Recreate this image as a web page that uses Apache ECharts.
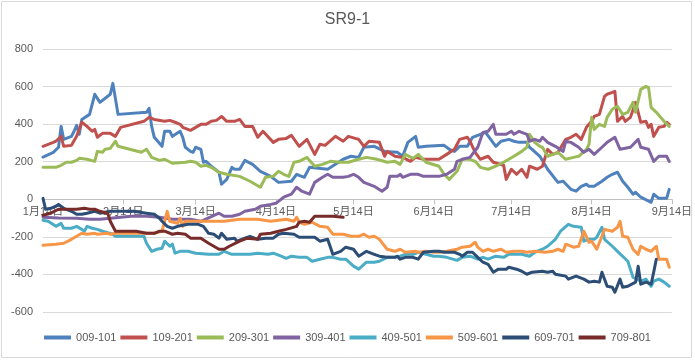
<!DOCTYPE html>
<html>
<head>
<meta charset="utf-8">
<script src="https://cdn.jsdelivr.net/npm/echarts@6/dist/echarts.min.js"></script>
<style>
html,body{margin:0;padding:0;background:#fff;}
#chart{width:695px;height:362px;}
</style>
</head>
<body>
<div id="chart"></div>
<script>
const title = 'SR9-1';
const seriesNames = ['009-101','109-201','209-301','309-401','409-501','509-601','609-701','709-801'];
const seriesColors = ['#4F81BD','#C0504D','#9BBB59','#8064A2','#4BACC6','#F79646','#2C4D75','#772C2A'];
const tickDates = ['1/14','2/14','3/14','4/14','5/14','6/14','7/14','8/14','9/14'];
const yTicks = { min: -600, max: 800, interval: 200 };

const s009_101 = [['1/14',225],['1/18',250],['1/20',277],['1/21',388],['1/22',319],['1/25',335],['1/26',362],['1/27',394],['1/28',346],['1/29',425],['2/1',452],['2/3',559],['2/5',516],['2/9',559],['2/10',617],['2/12',452],['2/23',463],['2/24',484],['2/25',388],['2/26',330],['3/1',282],['3/2',362],['3/4',362],['3/5',335],['3/8',362],['3/9',330],['3/10',277],['3/12',255],['3/13',250],['3/14',277],['3/16',266],['3/17',197],['3/18',202],['3/20',176],['3/23',144],['3/24',80],['3/26',106],['3/28',170],['3/29',160],['3/31',160],['4/2',207],['4/5',186],['4/8',149],['4/12',122],['4/15',90],['4/20',96],['4/22',133],['4/25',117],['4/27',170],['5/4',160],['5/7',186],['5/10',213],['5/13',229],['5/16',223],['5/18',277],['5/22',282],['5/26',255],['5/31',250],['6/2',229],['6/4',303],['6/7',335],['6/8',277],['6/11',282],['6/18',287],['6/20',266],['6/22',255],['6/24',282],['6/27',282],['6/29',330],['7/2',346],['7/4',356],['7/6',319],['7/8',282],['7/10',309],['7/13',319],['7/15',309],['7/17',303],['7/20',303],['7/21',277],['7/22',266],['7/25',229],['7/28',160],['8/1',90],['8/3',96],['8/6',53],['8/8',43],['8/10',69],['8/12',80],['8/13',69],['8/15',69],['8/18',96],['8/20',117],['8/22',133],['8/24',144],['8/26',96],['8/28',64],['8/30',27],['8/31',37],['9/2',11],['9/6',-16],['9/7',27],['9/9',5],['9/12',5],['9/13',53]];

const s109_201 = [['1/14',282],['1/18',303],['1/19',309],['1/21',335],['1/22',282],['1/25',287],['1/27',335],['1/29',410],['1/31',388],['2/2',362],['2/3',372],['2/4',330],['2/6',351],['2/9',351],['2/11',335],['2/13',383],['2/22',415],['2/24',436],['2/26',425],['3/2',415],['3/4',420],['3/6',410],['3/8',399],['3/9',383],['3/12',367],['3/14',383],['3/16',399],['3/18',399],['3/20',415],['3/22',420],['3/24',441],['3/26',415],['3/29',415],['3/31',425],['4/2',388],['4/5',388],['4/7',330],['4/9',362],['4/13',303],['4/15',319],['4/18',324],['4/20',340],['4/23',282],['4/26',319],['4/29',239],['5/1',293],['5/3',287],['5/7',335],['5/10',309],['5/12',335],['5/16',319],['5/18',282],['5/20',309],['5/24',303],['5/26',229],['5/27',255],['5/30',229],['6/2',223],['6/5',202],['6/7',223],['6/10',213],['6/16',213],['6/19',239],['6/22',266],['6/24',319],['6/27',330],['6/28',309],['6/30',250],['7/2',213],['7/5',229],['7/7',197],['7/11',181],['7/12',106],['7/14',160],['7/16',133],['7/18',160],['7/20',117],['7/21',176],['7/24',160],['7/26',176],['7/28',266],['7/30',239],['8/1',250],['8/4',319],['8/6',330],['8/8',346],['8/10',319],['8/12',383],['8/14',415],['8/15',441],['8/17',452],['8/19',548],['8/20',559],['8/22',569],['8/23',575],['8/24',415],['8/26',441],['8/27',415],['8/29',436],['8/31',516],['9/2',410],['9/4',415],['9/5',383],['9/6',399],['9/7',335],['9/9',383],['9/11',388],['9/12',410],['9/13',399]];

const s209_301 = [['1/14',170],['1/19',170],['1/21',181],['1/23',197],['1/25',197],['1/27',207],['1/28',218],['1/31',213],['2/3',202],['2/4',255],['2/6',250],['2/7',266],['2/9',271],['2/11',309],['2/12',282],['2/21',250],['2/23',266],['2/25',223],['2/28',207],['3/2',213],['3/5',192],['3/10',197],['3/12',202],['3/14',197],['3/16',176],['3/18',181],['3/20',170],['3/23',144],['3/26',133],['3/31',122],['4/4',96],['4/8',64],['4/10',117],['4/13',122],['4/15',149],['4/17',133],['4/19',122],['4/21',197],['4/23',202],['4/26',223],['4/29',176],['5/2',186],['5/5',202],['5/9',197],['5/12',197],['5/16',213],['5/19',223],['5/23',213],['5/27',197],['5/30',202],['6/1',186],['6/3',239],['6/6',218],['6/8',239],['6/11',197],['6/16',176],['6/18',133],['6/20',106],['6/23',149],['6/25',213],['6/28',213],['6/30',202],['7/2',170],['7/5',160],['7/8',176],['7/11',197],['7/15',229],['7/18',255],['7/20',277],['7/21',346],['7/23',303],['7/25',282],['7/26',277],['7/28',229],['7/30',239],['8/1',250],['8/4',213],['8/7',223],['8/9',229],['8/12',266],['8/13',293],['8/14',436],['8/15',372],['8/17',399],['8/19',388],['8/20',436],['8/22',479],['8/24',495],['8/26',452],['8/28',463],['8/30',516],['8/31',463],['9/2',585],['9/4',601],['9/5',596],['9/6',489],['9/8',463],['9/11',415],['9/13',388]];

const s309_401 = [['1/14',-95],['1/20',-100],['1/27',-101],['2/1',-106],['2/5',-106],['2/9',-101],['2/13',-96],['2/17',-90],['2/23',-90],['2/28',-96],['3/5',-106],['3/12',-106],['3/16',-117],['3/23',-74],['3/25',-90],['3/28',-90],['3/31',-80],['4/2',-64],['4/6',-53],['4/8',-37],['4/12',-27],['4/14',-21],['4/15',-11],['4/17',11],['4/20',27],['4/22',64],['4/24',43],['4/27',27],['4/29',90],['5/2',117],['5/4',133],['5/6',117],['5/10',117],['5/12',122],['5/14',133],['5/16',117],['5/18',90],['5/22',69],['5/25',43],['5/27',64],['5/28',122],['5/31',122],['6/1',133],['6/2',117],['6/5',133],['6/8',133],['6/10',122],['6/16',122],['6/19',133],['6/22',160],['6/23',202],['6/25',213],['6/28',223],['7/1',277],['7/3',356],['7/5',362],['7/7',399],['7/8',346],['7/12',346],['7/14',362],['7/15',346],['7/17',362],['7/20',346],['7/21',309],['7/23',319],['7/25',309],['7/26',330],['7/28',303],['7/31',282],['8/3',255],['8/4',309],['8/6',303],['8/9',277],['8/11',250],['8/13',266],['8/15',239],['8/18',277],['8/20',303],['8/23',330],['8/25',266],['8/29',277],['9/1',319],['9/2',277],['9/5',266],['9/7',202],['9/9',229],['9/12',229],['9/13',202]];

const s409_501 = [['1/14',-112],['1/16',-117],['1/19',-144],['1/21',-128],['1/22',-154],['1/25',-154],['1/27',-144],['1/29',-160],['1/30',-170],['1/31',-144],['2/2',-154],['2/4',-160],['2/6',-170],['2/10',-186],['2/11',-197],['2/22',-197],['2/23',-234],['2/25',-277],['2/27',-266],['3/1',-261],['3/2',-223],['3/4',-250],['3/5',-239],['3/6',-287],['3/8',-277],['3/11',-277],['3/14',-287],['3/19',-293],['3/23',-293],['3/25',-277],['3/28',-293],['4/4',-293],['4/7',-287],['4/11',-293],['4/13',-287],['4/16',-303],['4/18',-314],['4/20',-303],['4/23',-309],['4/26',-309],['4/28',-330],['5/1',-319],['5/4',-309],['5/6',-309],['5/9',-319],['5/11',-319],['5/14',-356],['5/16',-372],['5/19',-335],['5/22',-335],['5/24',-330],['5/27',-309],['5/30',-309],['6/1',-303],['6/3',-293],['6/6',-293],['6/8',-282],['6/11',-293],['6/14',-303],['6/16',-303],['6/19',-309],['6/23',-325],['6/25',-309],['6/28',-303],['7/1',-319],['7/3',-309],['7/5',-319],['7/8',-303],['7/11',-309],['7/13',-293],['7/16',-293],['7/18',-293],['7/21',-303],['7/23',-282],['7/26',-266],['7/28',-250],['7/31',-213],['8/2',-170],['8/5',-133],['8/7',-144],['8/10',-149],['8/11',-223],['8/13',-213],['8/15',-213],['8/16',-202],['8/18',-149],['8/19',-213],['8/22',-250],['8/24',-277],['8/28',-330],['8/30',-415],['9/2',-436],['9/4',-425],['9/6',-463],['9/7',-436],['9/9',-425],['9/11',-441],['9/13',-463]];

const s509_601 = [['1/14',-245],['1/19',-239],['1/22',-234],['1/25',-213],['1/27',-197],['1/29',-181],['1/31',-186],['2/3',-181],['2/4',-186],['2/8',-181],['2/9',-186],['2/11',-181],['2/15',-181],['2/22',-181],['2/26',-181],['3/1',-170],['3/2',-117],['3/3',-64],['3/4',-117],['3/7',-128],['3/8',-101],['3/9',-144],['3/10',-117],['3/15',-117],['3/25',-117],['3/31',-106],['4/7',-106],['4/12',-117],['4/18',-106],['4/21',-117],['4/22',-96],['4/23',-122],['4/25',-133],['4/28',-122],['5/1',-144],['5/4',-149],['5/6',-186],['5/10',-186],['5/13',-197],['5/16',-197],['5/18',-186],['5/20',-202],['5/22',-197],['5/24',-213],['5/27',-266],['5/30',-277],['6/1',-266],['6/3',-282],['6/7',-277],['6/8',-282],['6/11',-277],['6/14',-282],['6/16',-282],['6/19',-277],['6/23',-266],['6/25',-255],['6/28',-250],['6/30',-229],['7/1',-255],['7/3',-277],['7/5',-266],['7/7',-277],['7/10',-266],['7/12',-282],['7/15',-277],['7/18',-277],['7/20',-282],['7/23',-277],['7/27',-282],['7/30',-277],['8/1',-266],['8/3',-277],['8/4',-239],['8/7',-255],['8/9',-250],['8/11',-170],['8/13',-229],['8/14',-223],['8/16',-266],['8/18',-197],['8/19',-160],['8/22',-170],['8/24',-149],['8/25',-117],['8/26',-197],['8/28',-202],['8/30',-266],['9/1',-293],['9/2',-250],['9/4',-266],['9/6',-277],['9/8',-250],['9/9',-319],['9/12',-319],['9/13',-362]];

const s609_701 = [['1/14',5],['1/15',-53],['1/17',-48],['1/19',-37],['1/20',-27],['1/22',-48],['1/25',-64],['1/27',-80],['1/29',-80],['1/31',-74],['2/3',-64],['2/5',-74],['2/9',-64],['2/13',-64],['2/18',-64],['2/23',-74],['2/26',-80],['2/28',-101],['3/1',-117],['3/3',-144],['3/5',-154],['3/7',-144],['3/11',-133],['3/15',-133],['3/17',-144],['3/19',-181],['3/21',-186],['3/23',-207],['3/24',-181],['3/26',-213],['3/29',-207],['3/30',-223],['4/2',-207],['4/4',-197],['4/7',-213],['4/10',-207],['4/13',-207],['4/15',-186],['4/17',-181],['4/21',-186],['4/23',-202],['4/27',-202],['4/29',-202],['5/1',-223],['5/4',-213],['5/6',-293],['5/9',-277],['5/11',-255],['5/14',-266],['5/16',-303],['5/19',-277],['5/22',-293],['5/24',-303],['5/27',-309],['5/30',-309],['5/31',-303],['6/1',-319],['6/3',-309],['6/6',-309],['6/8',-319],['6/10',-282],['6/14',-277],['6/16',-277],['6/18',-282],['6/22',-282],['6/24',-293],['6/25',-303],['6/27',-282],['6/29',-282],['7/1',-309],['7/3',-335],['7/5',-346],['7/7',-388],['7/9',-372],['7/12',-372],['7/13',-362],['7/16',-372],['7/18',-383],['7/20',-399],['7/22',-388],['7/26',-383],['7/28',-388],['7/30',-383],['7/31',-399],['8/4',-409],['8/5',-425],['8/8',-409],['8/11',-425],['8/13',-441],['8/15',-436],['8/17',-441],['8/18',-388],['8/20',-463],['8/22',-468],['8/23',-495],['8/25',-425],['8/26',-468],['8/28',-463],['8/31',-441],['9/1',-356],['9/2',-452],['9/4',-441],['9/6',-452],['9/7',-388],['9/8',-319]];

const s709_801 = [['1/14',-85],['1/17',-74],['1/20',-53],['1/23',-53],['1/27',-53],['1/30',-48],['2/1',-53],['2/3',-53],['2/5',-64],['2/8',-74],['2/9',-117],['2/11',-170],['2/15',-170],['2/19',-170],['2/23',-181],['2/26',-181],['2/28',-170],['3/2',-170],['3/5',-186],['3/7',-181],['3/10',-186],['3/12',-207],['3/16',-207],['3/19',-234],['3/21',-250],['3/23',-266],['3/25',-266],['3/27',-250],['3/31',-223],['4/3',-207],['4/7',-213],['4/8',-186],['4/12',-181],['4/15',-170],['4/18',-160],['4/22',-144],['4/23',-122],['4/25',-117],['4/27',-122],['4/29',-90],['5/1',-90],['5/4',-90],['5/6',-90],['5/10',-96]];

const allSeries = [s009_101,s109_201,s209_301,s309_401,s409_501,s509_601,s609_701,s709_801];

const DAYS_BEFORE = [0,31,59,90,120,151,181,212,243,273,304,334];
function doy(s){ const p = s.split('/').map(Number); return DAYS_BEFORE[p[0]-1] + p[1]; }
const tickValues = tickDates.map(doy);
const tickLabelMap = {};
tickDates.forEach(s => { const p = s.split('/'); tickLabelMap[doy(s)] = p[0] + '月' + p[1] + '日'; });

const W = 695, H = 362;
const GRID = { left: 43, right: 18, top: 49, bottom: 50 };
const gridH = H - GRID.top - GRID.bottom;
// place the date axis on the value-0 line, like the spreadsheet chart
const zeroOffset = -gridH * (0 - yTicks.min) / (yTicks.max - yTicks.min);

const chart = echarts.init(document.getElementById('chart'), null, {renderer:'canvas', width: W, height: H});
const FONT = "'Liberation Sans', Arial, 'Noto Sans CJK SC', sans-serif";
chart.setOption({
  animation: false,
  backgroundColor: '#ffffff',
  title: {
    text: title, left: 'center', top: 7,
    textStyle: { fontSize: 16, fontWeight: 'normal', color: '#595959', fontFamily: FONT }
  },
  legend: {
    data: seriesNames, bottom: 14, left: 'center',
    icon: 'rect', itemWidth: 27, itemHeight: 4, itemGap: 4,
    textStyle: { fontSize: 11, color: '#595959', fontFamily: FONT }
  },
  grid: { left: GRID.left, right: GRID.right, top: GRID.top, bottom: GRID.bottom, containLabel: false },
  xAxis: {
    type: 'value', position: 'bottom', offset: zeroOffset,
    min: doy(tickDates[0]), max: doy(tickDates[tickDates.length-1]),
    axisLine: { onZero: false, lineStyle: { color: '#bfbfbf', width: 1 } },
    axisTick: { show: true, customValues: tickValues, length: 5, lineStyle: { color: '#bfbfbf' } },
    axisLabel: {
      customValues: tickValues, margin: 7, fontSize: 11, color: '#595959',
      fontFamily: "'Liberation Sans', 'Noto Sans CJK SC', sans-serif",
      formatter: v => tickLabelMap[Math.round(v)] || ''
    },
    splitLine: { show: false }
  },
  yAxis: {
    type: 'value', min: yTicks.min, max: yTicks.max, interval: yTicks.interval,
    axisLine: { show: false }, axisTick: { show: false },
    axisLabel: { fontSize: 11, color: '#595959', margin: 10, fontFamily: FONT },
    splitLine: { lineStyle: { color: '#d9d9d9', width: 1 } }
  },
  graphic: [{
    type: 'rect', silent: true, z: -1,
    shape: { x: 1.5, y: 1.5, width: 690, height: 356 },
    style: { fill: 'none', stroke: '#d9d9d9', lineWidth: 1 }
  }],
  series: allSeries.map((arr, i) => ({
    name: seriesNames[i], type: 'line', symbol: 'none', showSymbol: false,
    color: seriesColors[i],
    lineStyle: { width: 3, color: seriesColors[i], join: 'round', cap: 'round' },
    data: arr.map(p => [doy(p[0]), p[1]])
  }))
});
</script>
</body>
</html>
